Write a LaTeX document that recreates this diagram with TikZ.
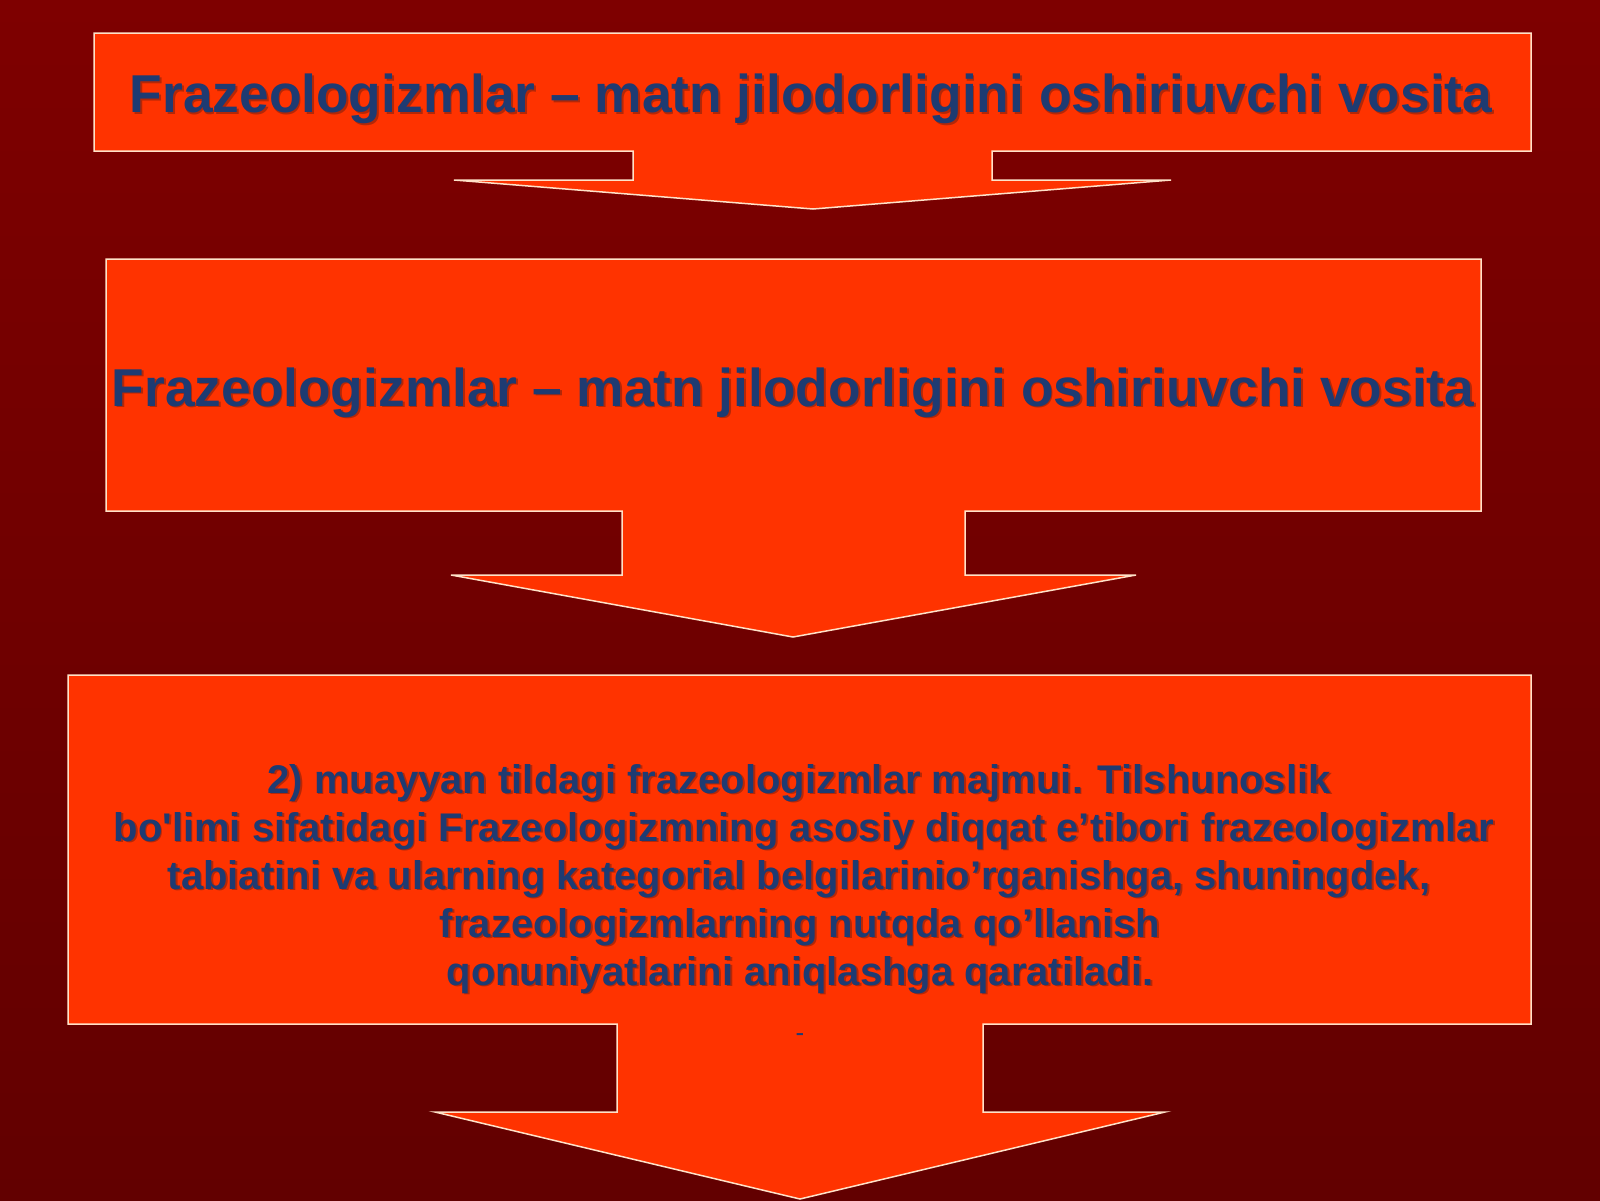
\documentclass[tikz,border=0pt]{standalone}
\usepackage{fontspec}
\setmainfont{Liberation Sans}
\definecolor{bgtop}{HTML}{7E0000}
\definecolor{bgbot}{HTML}{620000}
\definecolor{boxfill}{HTML}{FF3300}
\definecolor{boxline}{HTML}{FFE2C8}
\definecolor{txt}{HTML}{1E3B72}
\definecolor{shad}{HTML}{5A1A10}
\newcommand\lbl[5]{%
  \node[anchor=base,text=shad,opacity=.45,font=\fontsize{#4}{#4}\selectfont\bfseries] at (#2+1.8,#3+1.8) {#5};
  \node[anchor=base,text=txt,font=\fontsize{#4}{#4}\selectfont\bfseries] (#1) at (#2,#3) {#5};}
\begin{document}
\begin{tikzpicture}[x=1pt,y=-1pt,
  callout/.style={fill=boxfill,draw=boxline,line width=1.5pt,line join=miter}]
\useasboundingbox (0,0) rectangle (1600,1200);
\shade[top color=bgtop,bottom color=bgbot] (0,0) rectangle (1600,1200);
% callout 1
\draw[callout] (94,33) -- (1531,33) -- (1531,151) -- (992,151) -- (992,180) -- (1171,180)
  -- (813,209) -- (454,180) -- (633,180) -- (633,151) -- (94,151) -- cycle;
% callout 2
\draw[callout] (106,259) -- (1481,259) -- (1481,511) -- (965,511) -- (965,575) -- (1136,575)
  -- (793,637) -- (451,575) -- (622,575) -- (622,511) -- (106,511) -- cycle;
% callout 3
\draw[callout] (68,675) -- (1531,675) -- (1531,1024) -- (983,1024) -- (983,1112) -- (1165,1112)
  -- (800,1199) -- (435,1112) -- (617,1112) -- (617,1024) -- (68,1024) -- cycle;
% texts
\lbl{t1}{811}{112.7}{53.3}{Frazeologizmlar – matn jilodorligini oshiriuvchi vosita}
\lbl{t2}{793}{406}{53.3}{Frazeologizmlar – matn jilodorligini oshiriuvchi vosita}
\lbl{b1}{799}{793}{40}{2) muayyan tildagi frazeologizmlar majmui. Tilshunoslik}
\lbl{b2}{804}{841}{40}{bo\textquotesingle limi sifatidagi Frazeologizmning asosiy diqqat e’tibori frazeologizmlar}
\lbl{b3}{799}{889}{40}{tabiatini va ularning kategorial belgilarinio’rganishga, shuningdek,}
\lbl{b4}{800}{937}{40}{frazeologizmlarning nutqda qo’llanish}
\lbl{b5}{800}{985}{40}{qonuniyatlarini aniqlashga qaratiladi.}
\node[text=txt,font=\fontsize{26}{26}\selectfont] (dash) at (800,1038) {-};
\end{tikzpicture}
\end{document}
